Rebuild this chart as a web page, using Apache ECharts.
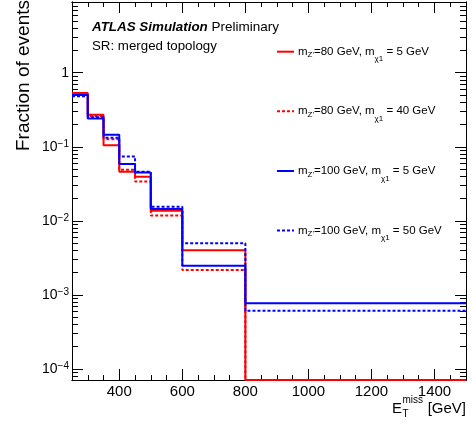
<!DOCTYPE html>
<html>
<head>
<meta charset="utf-8">
<script src="https://cdn.jsdelivr.net/npm/echarts@6/dist/echarts.min.js"></script>
<style>
  html, body { margin: 0; padding: 0; background: #ffffff; }
  #main { width: 472px; height: 426px; }
</style>
</head>
<body>
<div id="main"></div>
<script>
// bin edges of the MET histogram [GeV]
const binEdges = [250, 300, 350, 400, 450, 500, 600, 800, 1500];

// fraction of events per bin (0 = empty bin)
const zp80chi5 = [0.53, 0.27, 0.105, 0.046, 0.0395, 0.0137, 0.0040, 0];
const zp80chi40 = [0.52, 0.26, 0.126, 0.049, 0.034, 0.0118, 0.00217, 0];
const zp100chi5 = [0.50, 0.24, 0.145, 0.0586, 0.045, 0.0145, 0.00248, 0.00077];
const zp100chi50 = [0.48, 0.25, 0.132, 0.074, 0.046, 0.0155, 0.0050, 0.00061];

const seriesNames = [
  "mZ'=80 GeV, mχ1 = 5 GeV",
  "mZ'=80 GeV, mχ1 = 40 GeV",
  "mZ'=100 GeV, mχ1 = 5 GeV",
  "mZ'=100 GeV, mχ1 = 50 GeV"
];
const legendTexts = [
  "m{z|Z'}=80 GeV, m{c|χ1} = 5 GeV",
  "m{z|Z'}=80 GeV, m{c|χ1} = 40 GeV",
  "m{z|Z'}=100 GeV, m{c|χ1} = 5 GeV",
  "m{z|Z'}=100 GeV, m{c|χ1} = 50 GeV"
];

// axis ranges and ticks
const xMin = 250, xMax = 1500;
const yMin = 7.1e-5, yMax = 9;
const xMajorTicks = [400, 600, 800, 1000, 1200, 1400];
const yMajorTicks = [1e-4, 1e-3, 1e-2, 1e-1, 1];

let xMinorTicks = [];
for (let v = 300; v < xMax; v += 50) {
  if (xMajorTicks.indexOf(v) < 0) xMinorTicks.push(v);
}
let yMinorTicks = [];
for (let d = -5; d <= 0; d++) {
  for (let k = 2; k <= 9; k++) {
    const v = k * Math.pow(10, d);
    if (v > yMin && v < yMax) yMinorTicks.push(v);
  }
}

const FONT = 'Liberation Sans';
const chart = echarts.init(document.getElementById('main'), null, { renderer: 'canvas' });

function histSeries(name, values, color, dotted) {
  return {
    name: name,
    type: 'line',
    step: 'end',
    symbol: 'none',
    clip: true,
    animation: false,
    xAxisIndex: 0,
    yAxisIndex: 0,
    lineStyle: { color: color, width: 2, type: dotted ? [3, 2] : 'solid' },
    itemStyle: { color: color },
    // empty bins sit on the bottom of the frame, like ROOT draws them
    data: binEdges.map(function (e, i) {
      const v = values[Math.min(i, values.length - 1)];
      return [e, Math.max(v, yMin)];
    })
  };
}

function xAxis(pos, ticks, len, withLabels) {
  return {
    type: 'value', gridIndex: 0, position: pos, min: xMin, max: xMax,
    axisLine: { show: true, lineStyle: { color: '#000', width: 1 } },
    axisTick: { show: true, inside: true, length: len, customValues: ticks,
      lineStyle: { color: '#000', width: 1 } },
    axisLabel: withLabels ? {
      show: true, customValues: ticks, margin: 4,
      color: '#000', fontSize: 15, fontFamily: FONT,
      formatter: function (v) { return String(v); }
    } : { show: false },
    splitLine: { show: false }
  };
}

function yAxis(pos, ticks, len, withLabels) {
  return {
    type: 'log', gridIndex: 0, position: pos, min: yMin, max: yMax, logBase: 10,
    axisLine: { show: true, lineStyle: { color: '#000', width: 1 } },
    axisTick: { show: true, inside: true, length: len, customValues: ticks,
      lineStyle: { color: '#000', width: 1 } },
    axisLabel: withLabels ? {
      show: true, customValues: ticks, margin: 3,
      color: '#000', fontSize: 14, fontFamily: FONT,
      formatter: function (v) {
        if (v >= 0.99) return '1';
        return '10{sup|−' + Math.round(-Math.log10(v)) + '}';
      },
      rich: { sup: { fontSize: 10, fontFamily: FONT, color: '#000', padding: [0, 0, 6, 0] } }
    } : { show: false },
    splitLine: { show: false },
    minorTick: { show: false }
  };
}

const legendTops = [45.7, 105.3, 165, 224.6];
const legends = seriesNames.map(function (n, i) {
  return {
    data: [n],
    left: 276,
    top: legendTops[i],
    orient: 'vertical',
    itemWidth: 17,
    itemHeight: 10,
    itemGap: 0,
    padding: 0,
    selectedMode: false,
    // line only, no marker in the key
    itemStyle: { opacity: 0, borderWidth: 0 },
    formatter: function () { return legendTexts[i]; },
    textStyle: {
      color: '#000', fontSize: 11.5, fontFamily: FONT, padding: [0, 0, 0, -1],
      rich: {
        z: { fontSize: 8, fontFamily: FONT, color: '#000', padding: [7, 0, 0, 0] },
        c: { fontSize: 8, fontFamily: FONT, color: '#000', padding: [15, 0, 0, 0] }
      }
    }
  };
});

const option = {
  backgroundColor: '#ffffff',
  animation: false,
  grid: { left: 72, right: 6, top: 2, bottom: 46, containLabel: false, outerBoundsMode: 'none' },
  xAxis: [
    xAxis('bottom', xMajorTicks, 11, true),
    xAxis('bottom', xMinorTicks, 5, false),
    xAxis('top', xMajorTicks, 11, false),
    xAxis('top', xMinorTicks, 5, false)
  ],
  yAxis: [
    yAxis('left', yMajorTicks, 11, true),
    yAxis('left', yMinorTicks, 6, false),
    yAxis('right', yMajorTicks, 11, false),
    yAxis('right', yMinorTicks, 6, false)
  ],
  legend: legends,
  series: [
    histSeries(seriesNames[0], zp80chi5, '#ff0000', false),
    histSeries(seriesNames[1], zp80chi40, '#ff0000', true),
    histSeries(seriesNames[2], zp100chi5, '#0000ff', false),
    histSeries(seriesNames[3], zp100chi50, '#0000ff', true)
  ],
  graphic: [
    {
      type: 'text', x: 24, y: 0, rotation: Math.PI / 2,
      style: { text: 'Fraction of events', align: 'right', verticalAlign: 'middle',
        fontSize: 19, fontFamily: FONT, fill: '#000' }
    },
    {
      type: 'text', x: 92, y: 27,
      style: {
        text: '{b|ATLAS Simulation} Preliminary', verticalAlign: 'middle',
        fontSize: 13.5, fontFamily: FONT, fill: '#000',
        rich: { b: { fontSize: 13.4, fontWeight: 'bold', fontStyle: 'italic', fontFamily: FONT, fill: '#000' } }
      }
    },
    {
      type: 'text', x: 92, y: 46,
      style: { text: 'SR: merged topology', verticalAlign: 'middle',
        fontSize: 13.3, fontFamily: FONT, fill: '#000' }
    },
    {
      type: 'text', x: 402, y: 408.5,
      style: { text: 'E', align: 'right', verticalAlign: 'middle', fontSize: 15, fontFamily: FONT, fill: '#000' }
    },
    {
      type: 'text', x: 402.5, y: 400.5,
      style: { text: 'miss', align: 'left', verticalAlign: 'middle', fontSize: 10, fontFamily: FONT, fill: '#000' }
    },
    {
      type: 'text', x: 402.5, y: 414,
      style: { text: 'T', align: 'left', verticalAlign: 'middle', fontSize: 10, fontFamily: FONT, fill: '#000' }
    },
    {
      type: 'text', x: 466, y: 408.5,
      style: { text: '[GeV]', align: 'right', verticalAlign: 'middle', fontSize: 15, fontFamily: FONT, fill: '#000' }
    }
  ]
};

chart.setOption(option);
</script>
</body>
</html>
